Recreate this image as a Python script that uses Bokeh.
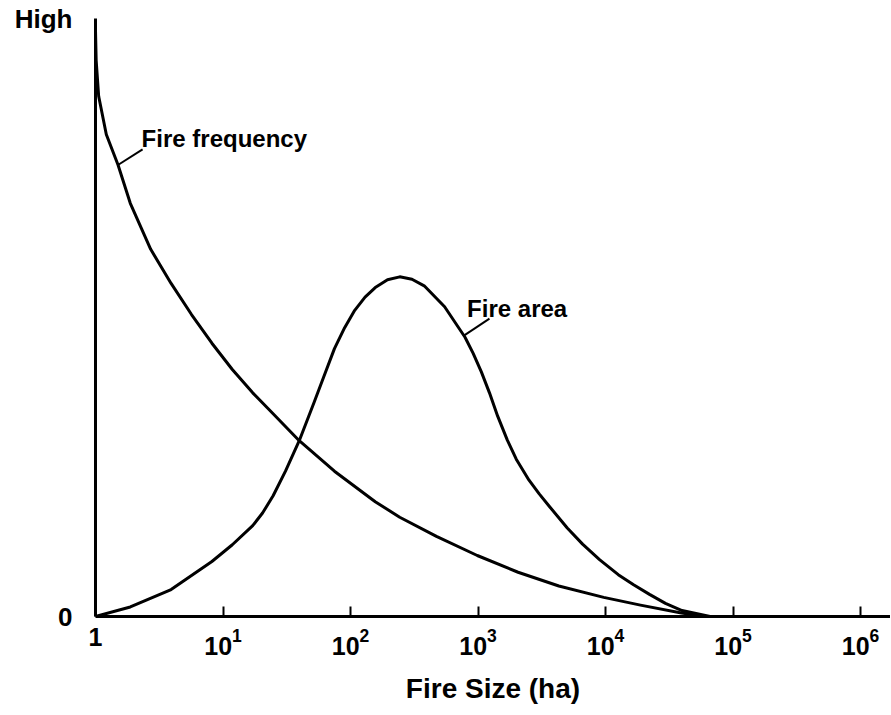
from bokeh.plotting import figure
from bokeh.models import Range1d, FixedTicker, Label, LogTickFormatter
from bokeh.embed import file_html
from bokeh.resources import INLINE

# Fire frequency curve (fire size in ha, relative level 0..1 = High)
freq_size = [1, 1.012, 1.059, 1.216, 1.503, 1.875, 2.71, 3.917, 5.662, 8.185,
             11.83, 17.10, 24.72, 39.63, 74.82, 156.3, 243.2, 472.1, 986.3,
             2061, 4305, 9683, 18793, 39355, 61235]
freq_level = [0.98, 0.93, 0.87, 0.806, 0.755, 0.691, 0.614, 0.557, 0.505, 0.457,
              0.413, 0.374, 0.339, 0.294, 0.243, 0.192, 0.166, 0.134, 0.102,
              0.074, 0.051, 0.032, 0.019, 0.006, 0.0]

# Fire area curve
area_size = [1, 1.875, 3.917, 8.185, 11.83, 17.10, 20.42, 24.72, 30.90, 39.63,
             51.76, 62.23, 74.82, 89.95, 107.9, 130.0, 156.3, 195.0, 243.2,
             303.4, 378.4, 547.0, 790.7, 916.2, 1062, 1230, 1426, 1698, 1995,
             2512, 3020, 3631, 5012, 6607, 8974, 12589, 16596, 22131, 29512,
             39811, 66070]
area_level = [0.0, 0.016, 0.045, 0.092, 0.120, 0.152, 0.173, 0.202, 0.243, 0.294,
              0.358, 0.403, 0.448, 0.483, 0.512, 0.534, 0.550, 0.563, 0.568,
              0.564, 0.553, 0.518, 0.467, 0.440, 0.409, 0.374, 0.335, 0.295,
              0.263, 0.228, 0.205, 0.184, 0.148, 0.121, 0.095, 0.070, 0.053,
              0.037, 0.022, 0.010, 0.0]

# Axis ticks
x_ticks = [1, 10, 100, 1000, 10000, 100000, 1000000]
y_ticks = [0, 1]
y_labels = ["0", "High"]

# Annotation labels with leader lines
ann_text = ["Fire frequency", "Fire area"]
ann_x = [2.30, 821]
ann_y = [0.800, 0.515]
lead_x0 = [1.50, 780]
lead_y0 = [0.755, 0.470]
lead_x1 = [2.34, 1230]
lead_y1 = [0.781, 0.498]

FONT = "Liberation Sans"
W, H = 890, 712

p = figure(width=W, height=H, x_axis_type="log",
           x_range=Range1d(1, 10 ** 6.235), y_range=Range1d(0, 1),
           output_backend="svg", toolbar_location=None,
           min_border_left=95, min_border_right=0, min_border_top=18,
           min_border_bottom=96)
p.outline_line_color = None
p.xgrid.visible = False
p.ygrid.visible = False
p.background_fill_color = "white"
p.border_fill_color = "white"

# x axis
xa = p.xaxis[0]
xa.ticker = FixedTicker(ticks=x_ticks, minor_ticks=[])
xa.formatter = LogTickFormatter()
xa.major_label_overrides = {1: "1"}
xa.major_label_text_font = FONT
xa.major_label_text_font_style = "bold"
xa.major_label_text_font_size = "25px"
xa.major_label_text_color = "black"
xa.major_label_standoff = 11
xa.major_tick_in = 10
xa.major_tick_out = 0
xa.minor_tick_line_color = None
xa.axis_line_width = 3
xa.major_tick_line_width = 2
xa.axis_line_color = "black"
xa.major_tick_line_color = "black"
xa.axis_label = "Fire Size (ha)"
xa.axis_label_text_font = FONT
xa.axis_label_text_font_style = "bold"
xa.axis_label_text_font_size = "28px"
xa.axis_label_standoff = 15
xa.axis_label_text_color = "black"

# y axis
ya = p.yaxis[0]
ya.ticker = FixedTicker(ticks=y_ticks, minor_ticks=[])
ya.major_label_overrides = {t: l for t, l in zip(y_ticks, y_labels)}
ya.major_tick_in = 0
ya.major_tick_out = 0
ya.minor_tick_line_color = None
ya.axis_line_width = 3
ya.axis_line_color = "black"
ya.major_label_text_font = FONT
ya.major_label_text_font_style = "bold"
ya.major_label_text_font_size = "26px"
ya.major_label_text_color = "black"
ya.major_label_standoff = 23

# curves
p.line(freq_size, freq_level, line_width=3, line_color="black", line_join="round")
p.line(area_size, area_level, line_width=3, line_color="black", line_join="round")

# annotations
p.segment(lead_x0, lead_y0, lead_x1, lead_y1, line_width=2, line_color="black")
for t, x, y in zip(ann_text, ann_x, ann_y):
    p.add_layout(Label(x=x, y=y, text=t, text_align="left",
                       text_baseline="alphabetic", text_font=FONT,
                       text_font_style="bold", text_font_size="24px",
                       text_color="black"))

open("out.html", "w").write(file_html(p, INLINE))
